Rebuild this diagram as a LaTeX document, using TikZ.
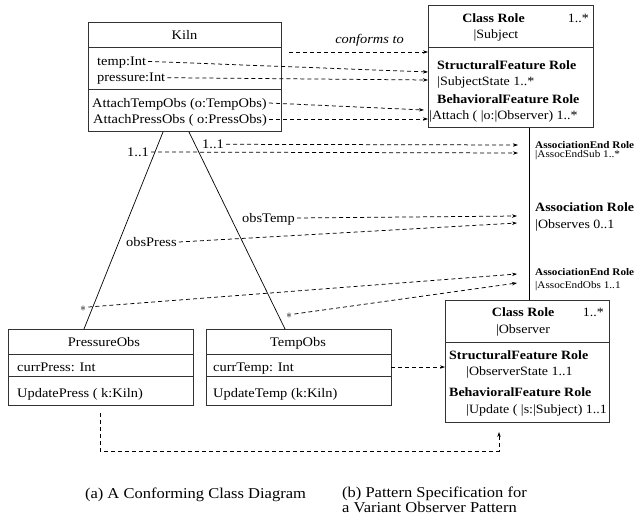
\documentclass[tikz,border=0pt]{standalone}
\usepackage{fontspec}
\setmainfont{Liberation Serif}[FakeStretch=1.1]
\usepackage{tikz}
\usetikzlibrary{arrows.meta,calc}
\colorlet{linegray}{black!80}
\newcommand{\clsfont}{\fontsize{13.1}{15}\selectfont}
\newcommand{\rolefont}{\fontsize{12.7}{15}\selectfont}
\newcommand{\assocendfont}{\fontsize{10.15}{12}\selectfont}
\newcommand{\rolenamefont}{\fontsize{10.2}{12}\selectfont}
\newcommand{\capfont}{\fontsize{15}{17}\selectfont}

\begin{document}
\begin{tikzpicture}[x=1pt,y=-1pt,
  box/.style={draw=linegray,line width=1pt,inner sep=0pt,outer sep=0pt,anchor=north west},
  sep/.style={draw=linegray,line width=1pt},
  txt/.style={inner xsep=2pt,inner ysep=0pt,text height=10pt,text depth=1.4pt,anchor=base west,font=\clsfont},
  role/.style={txt,font=\rolefont},
  dep/.style={dash pattern=on 4pt off 3pt,line width=0.75pt,-{Stealth[length=5pt,width=3.4pt]}},
  assoc/.style={line width=0.7pt}]
\useasboundingbox (0,0) rectangle (636,518);

% boxes
\node[box,minimum width=193pt,minimum height=109pt] (kiln) at (88,23) {};
\node[box,minimum width=165pt,minimum height=122pt] (subject) at (428,6) {};
\node[box,minimum width=164pt,minimum height=122pt] (observer) at (445,300) {};
\node[box,minimum width=185pt,minimum height=76pt] (pressobs) at (8,329) {};
\node[box,minimum width=185pt,minimum height=76pt] (tempobs) at (206,329) {};
\draw[sep] ([yshift=-25pt]kiln.north west) -- ([yshift=-25pt]kiln.north east);
\draw[sep] ([yshift=-67pt]kiln.north west) -- ([yshift=-67pt]kiln.north east);
\draw[sep] ([yshift=-42pt]subject.north west) -- ([yshift=-42pt]subject.north east);
\draw[sep] ([yshift=-42pt]observer.north west) -- ([yshift=-42pt]observer.north east);
\foreach \b in {pressobs,tempobs}{
  \draw[sep] ([yshift=-25pt]\b.north west) -- ([yshift=-25pt]\b.north east);
  \draw[sep] ([yshift=-47pt]\b.north west) -- ([yshift=-47pt]\b.north east);
}

% class diagram texts
\node[txt,anchor=base] (kilnname) at (184.5,40) {Kiln};
\node[txt] (tempattr) at (95,65.7) {temp:Int};
\node[txt] (pressattr) at (95,82) {pressure:Int};
\node[txt] (attachtemp) at (90,107.3) {AttachTempObs (o:TempObs)};
\node[txt] (attachpress) at (91,123.3) {AttachPressObs ( o:PressObs)};
\node[txt,anchor=base] (pressname) at (104,346) {PressureObs};
\node[txt] (currpress) at (15,371.7) {currPress: Int};
\node[txt] (updpress) at (15,397.3) {UpdatePress ( k:Kiln)};
\node[txt,anchor=base] (tempname) at (298,346) {TempObs};
\node[txt] (currtemp) at (211,371.7) {currTemp: Int};
\node[txt] (updtemp) at (211,397.3) {UpdateTemp (k:Kiln)};
\node[txt] (multA) at (125,156.3) {1..1};
\node[txt] (multB) at (200,148.6) {1..1};
\node[txt] (obstemp) at (240,222.3) {obsTemp};
\node[txt] (obspress) at (124,246.3) {obsPress};
\node[txt] (starA) at (78,311.3) {$\ast$};
\node[txt] (starB) at (284,318.3) {$\ast$};

% pattern specification texts
\node[role,anchor=base] (subjrole) at (493.5,22.7) {\textbf{Class Role}};
\node[role,anchor=base east] (subjmult) at (591,22.7) {1..*};
\node[role,anchor=base] (subjname) at (496,38.3) {|Subject};
\node[role] (sfrole) at (435,69.3) {\textbf{StructuralFeature Role}};
\node[role] (sfname) at (435,85.7) {|SubjectState 1..*};
\node[role] (bfrole) at (435,103.3) {\textbf{BehavioralFeature Role}};
\node[role] (bfname) at (427,120) {|Attach ( |o:|Observer) 1..*};
\node[role,font=\assocendfont] (endsub) at (533,148.3) {\textbf{AssociationEnd Role}};
\node[role,font=\rolenamefont] (endsubname) at (533,157.5) {|AssocEndSub 1..*};
\node[role] (assocrole) at (533,211.7) {\textbf{Association Role}};
\node[role] (assocname) at (533,228.3) {|Observes 0..1};
\node[role,font=\assocendfont] (endobs) at (533,275) {\textbf{AssociationEnd Role}};
\node[role,font=\rolenamefont] (endobsname) at (533,288.5) {|AssocEndObs 1..1};
\node[role,anchor=base] (obsrole) at (523.2,316.7) {\textbf{Class Role}};
\node[role,anchor=base east] (obsmult) at (606,316.7) {1..*};
\node[role,anchor=base] (obsname) at (523,333.3) {|Observer};
\node[role] (osfrole) at (447,359) {\textbf{StructuralFeature Role}};
\node[role] (osfname) at (464,375.7) {|ObserverState 1..1};
\node[role] (obfrole) at (447,396) {\textbf{BehavioralFeature Role}};
\node[role] (obfname) at (464,413.3) {|Update ( |s:|Subject) 1..1};

% associations
\draw[assoc] ([xshift=-21.5pt]kiln.south) -- ([xshift=-16.5pt]pressobs.north);
\draw[assoc] ([xshift=4.5pt]kiln.south) -- ([xshift=-13.5pt]tempobs.north);
\draw[assoc] ([xshift=18.5pt]subject.south) -- ([xshift=2pt]observer.north);

% conformance mapping
\coordinate (confstart) at (289,52);
\coordinate (toclass) at (428,52);
\coordinate (tostateA) at (428,72);
\coordinate (tostateB) at (428,80);
\coordinate (toattachA) at (424,110);
\coordinate (toattachB) at (428,119);
\coordinate (toendsubA) at (518,145);
\coordinate (toendsubB) at (518,153);
\coordinate (toassocA) at (517,216);
\coordinate (toassocB) at (517,223);
\coordinate (toendobsA) at (517,274);
\coordinate (toendobsB) at (517,283);
\coordinate (pressstart) at (100,413);
\coordinate (toupdate) at (499,432);
\node[txt,anchor=base,font=\clsfont\itshape] (conforms) at (369.5,43.3) {conforms to};
\draw[dep] (confstart) -- (toclass);
\draw[dep] (tempattr.east) -- (tostateA);
\draw[dep] (pressattr.east) -- (tostateB);
\draw[dep] (attachtemp.east) -- (toattachA);
\draw[dep] (attachpress.east) -- (toattachB);
\draw[dep] (multB.east) -- (toendsubA);
\draw[dep] (multA.east) -- (toendsubB);
\draw[dep] (obstemp.east) -- (toassocA);
\draw[dep] (obspress.east) -- (toassocB);
\draw[dep] (starA.east) -- (toendobsA);
\draw[dep] (starB.east) -- (toendobsB);
\draw[dep] (tempobs.east) -- (tempobs.east -| observer.west);
\draw[dep] (pressstart) -- ++(0,38) -| (toupdate);

% captions
\node[txt,anchor=base,font=\capfont] (capa) at (195.5,498) {(a) A Conforming Class Diagram};
\node[txt,font=\capfont] (capb) at (340,497) {(b) Pattern Specification for};
\node[txt,font=\capfont] (capc) at (340,512) {a Variant Observer Pattern};
\end{tikzpicture}
\end{document}
